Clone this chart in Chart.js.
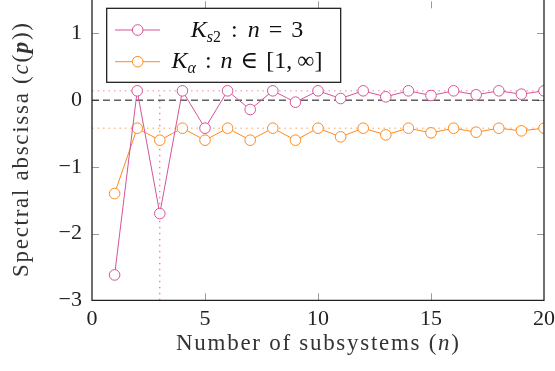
<!DOCTYPE html>
<html><head><meta charset="utf-8">
<script src="https://cdn.jsdelivr.net/npm/chart.js@4"></script>
<style>html,body{margin:0;padding:0;background:#fff;}#wrap{position:relative;width:555px;height:371px;overflow:hidden;}canvas{display:block;position:absolute;left:0;top:-5px;}</style>
</head><body><div id="wrap"><canvas id="c" width="555" height="376"></canvas></div>
<script>
// ---- data ----
const nValues = [1,2,3,4,5,6,7,8,9,10,11,12,13,14,15,16,17,18,19,20];
const ks2Values = [-2.62,0.14,-1.70,0.14,-0.42,0.14,-0.14,0.14,-0.03,0.14,0.025,0.14,0.05,0.14,0.07,0.14,0.08,0.14,0.09,0.14];
const kAlphaValues = [-1.40,-0.42,-0.60,-0.42,-0.60,-0.42,-0.60,-0.42,-0.60,-0.42,-0.55,-0.42,-0.52,-0.42,-0.49,-0.42,-0.48,-0.42,-0.46,-0.42];
const xTickValues = [0,5,10,15,20];
const yTickValues = [-3,-2,-1,0,1];
const ks2Level = 0.14;
const kAlphaLevel = -0.42;
const markedN = 3;
const xRange = [0,20];
const yRange = [-3,1.482];

const PINK = '#d4559a';
const ORANGE = '#ff8a1c';
const SERIF = '"Liberation Serif", "DejaVu Serif", serif';
const OFFSET = 5; // canvas is shifted up by this many px

const pts = (xs, ys) => xs.map((x,i)=>({x:x,y:ys[i]}));

function richWidth(ctx, segs){
  let w=0; segs.forEach(s=>{ctx.font=s.f; w += (s.gap||0) + ctx.measureText(s.t).width;}); return w;
}
function drawRich(ctx, segs, cx, baseline, targetWidth){
  let nat = richWidth(ctx, segs);
  let nChars = segs.reduce((a,s)=>a+[...s.t].length,0);
  let ls = targetWidth ? Math.max(0,(targetWidth-nat)/Math.max(1,nChars-1)) : 0;
  let total = nat + ls*(nChars-1);
  let x = cx - total/2;
  ctx.textAlign='left'; ctx.textBaseline='alphabetic';
  segs.forEach(s=>{
    ctx.font=s.f; x += (s.gap||0);
    [...s.t].forEach(ch=>{ ctx.fillText(ch, x, baseline + (s.dy||0)); x += ctx.measureText(ch).width + ls; });
  });
}

const overlay = {
  id:'overlay',
  beforeDatasetsDraw(chart){
    const {ctx, chartArea:a, scales:{x,y}} = chart;
    ctx.save();
    ctx.strokeStyle='#9a9a9a'; ctx.lineWidth=1;
    const L=7;
    xTickValues.forEach(v=>{
      if(v===xRange[0]||v===xRange[1]) return;
      const px=Math.round(x.getPixelForValue(v))+0.5;
      ctx.beginPath(); ctx.moveTo(px,a.bottom); ctx.lineTo(px,a.bottom-L); ctx.stroke();
      ctx.beginPath(); ctx.moveTo(px,a.top); ctx.lineTo(px,a.top+L); ctx.stroke();
    });
    yTickValues.forEach(v=>{
      if(v===yRange[0]) return;
      const py=Math.round(y.getPixelForValue(v))+0.5;
      ctx.beginPath(); ctx.moveTo(a.left,py); ctx.lineTo(a.left+L,py); ctx.stroke();
      ctx.beginPath(); ctx.moveTo(a.right,py); ctx.lineTo(a.right-L,py); ctx.stroke();
    });
    ctx.restore();
  },
  afterDatasetsDraw(chart){
    const {ctx, chartArea:a} = chart;
    ctx.save();
    ctx.strokeStyle='#222'; ctx.lineWidth=1.3;
    ctx.beginPath();
    ctx.moveTo(a.left, a.top-3); ctx.lineTo(a.left, a.bottom); ctx.lineTo(a.right, a.bottom); ctx.lineTo(a.right, a.top-3);
    ctx.stroke();
    ctx.restore();
  },
  afterDraw(chart){
    const ctx = chart.ctx;
    ctx.save();
    ctx.translate(0, OFFSET);
    // legend
    const bx=106.7, by=8.3, bw=234, bh=74;
    ctx.fillStyle='#fff'; ctx.fillRect(bx,by,bw,bh);
    ctx.strokeStyle='#111'; ctx.lineWidth=1.2; ctx.strokeRect(bx,by,bw,bh);
    const F='italic 24px '+SERIF, R='24px '+SERIF;
    const rows=[
      {c:PINK, y:30, segs:[
        {t:'K', f:F},
        {t:'s', f:'italic 16px '+SERIF, dy:5},
        {t:'2', f:'16px '+SERIF, dy:5},
        {t:':', f:R, gap:10},
        {t:'n', f:F, gap:10},
        {t:'=', f:R, gap:9},
        {t:'3', f:R, gap:9}
      ]},
      {c:ORANGE, y:61.7, segs:[
        {t:'K', f:F},
        {t:'α', f:'italic 16px '+SERIF, dy:5},
        {t:':', f:R, gap:9},
        {t:'n', f:F, gap:9},
        {t:'∈', f:R, gap:8},
        {t:'[1,', f:R, gap:8},
        {t:'∞]', f:R, gap:5}
      ]}
    ];
    rows.forEach(r=>{
      ctx.strokeStyle=r.c; ctx.lineWidth=1;
      ctx.beginPath(); ctx.moveTo(115,r.y); ctx.lineTo(160,r.y); ctx.stroke();
      ctx.beginPath(); ctx.arc(137.7,r.y,5.3,0,Math.PI*2); ctx.fillStyle='#fff'; ctx.fill(); ctx.stroke();
      ctx.fillStyle='#111';
      drawRich(ctx, r.segs, 247, r.y+6.7, 0);
    });
    // x title
    ctx.fillStyle='#333';
    drawRich(ctx, [
      {t:'Number of subsystems (', f:'23px '+SERIF},
      {t:'n', f:'italic 23px '+SERIF},
      {t:')', f:'23px '+SERIF}
    ], 317.5, 350, 283);
    // y title
    ctx.save();
    ctx.translate(28, 150);
    ctx.rotate(-Math.PI/2);
    drawRich(ctx, [
      {t:'Spectral abscissa (', f:'23px '+SERIF},
      {t:'c', f:'italic 23px '+SERIF},
      {t:'(', f:'23px '+SERIF},
      {t:'p', f:'bold italic 23px '+SERIF},
      {t:'))', f:'23px '+SERIF}
    ], 0, 0, 254);
    ctx.restore();
    ctx.restore();
  }
};

const refStyle = {pointRadius:0, borderWidth:1, fill:false, tension:0};
const noPad = s => { s.paddingLeft=0; s.paddingRight=0; s.paddingTop=0; s.paddingBottom=0; };

new Chart(document.getElementById('c'), {
  type:'line',
  data:{datasets:[
    {label:'K_s2 : n = 3', data:pts(nValues, ks2Values), borderColor:PINK, backgroundColor:'#fff', borderWidth:1,
     pointRadius:5.3, pointBorderWidth:1, pointBorderColor:PINK, pointBackgroundColor:'#fff', tension:0},
    {label:'K_α : n ∈ [1, ∞]', data:pts(nValues, kAlphaValues), borderColor:ORANGE, backgroundColor:'#fff', borderWidth:1,
     pointRadius:5.3, pointBorderWidth:1, pointBorderColor:ORANGE, pointBackgroundColor:'#fff', tension:0},
    Object.assign({label:'zero', data:[{x:xRange[0],y:0},{x:xRange[1],y:0}], borderColor:'#111', borderDash:[7,4]}, refStyle),
    Object.assign({label:'ks2 level', data:[{x:xRange[0],y:ks2Level},{x:xRange[1],y:ks2Level}], borderColor:'#e986b0', borderDash:[1.5,4]}, refStyle),
    Object.assign({label:'kα level', data:[{x:xRange[0],y:kAlphaLevel},{x:xRange[1],y:kAlphaLevel}], borderColor:'#ffa050', borderDash:[1.5,4]}, refStyle),
    Object.assign({label:'n mark', data:[{x:markedN,y:yRange[0]},{x:markedN,y:ks2Level}], borderColor:'#ff4d6a', borderDash:[1.5,4.5]}, refStyle)
  ]},
  options:{
    responsive:false, animation:false, devicePixelRatio:1,
    layout:{padding:{left:0,right:11,top:0,bottom:0}},
    plugins:{legend:{display:false}, tooltip:{enabled:false}},
    scales:{
      x:{type:'linear', min:xRange[0], max:xRange[1],
         grid:{display:false, drawTicks:false}, border:{display:false},
         ticks:{stepSize:5, includeBounds:false, padding:6, color:'#222', font:{family:SERIF, size:22}},
         afterFit:s=>{s.height=70.7; noPad(s);}},
      y:{type:'linear', min:yRange[0], max:yRange[1],
         grid:{display:false, drawTicks:false}, border:{display:false},
         ticks:{stepSize:1, includeBounds:false, padding:10, color:'#222', font:{family:SERIF, size:22},
                callback:v=> v<0 ? '\u2212'+Math.abs(v) : String(v)},
         afterFit:s=>{s.width=92; noPad(s);}}
    }
  },
  plugins:[overlay]
});
</script></body></html>
